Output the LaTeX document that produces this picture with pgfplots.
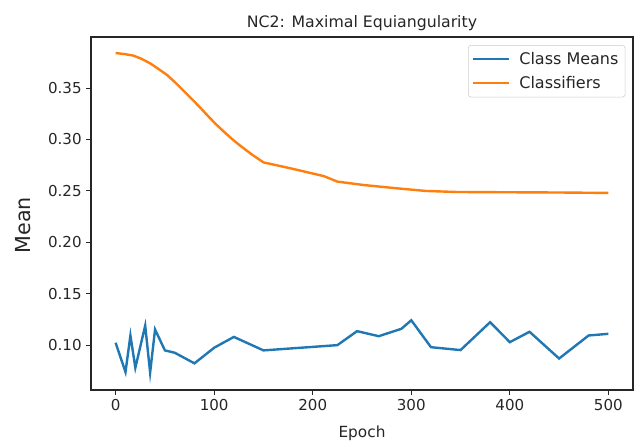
\documentclass[border=0pt]{standalone}
\usepackage{pgfplots}
\pgfplotsset{compat=1.18}
\usepackage{fontspec}
\setmainfont{DejaVu Sans}
\definecolor{mplblue}{HTML}{1F77B4}
\definecolor{mplorange}{HTML}{FF7F0E}
\definecolor{txt}{HTML}{262626}
\begin{document}
\begin{tikzpicture}
\begin{axis}[
  name=ax,
  scale only axis,
  width=406.5pt, height=264.75pt,
  xmin=-25, xmax=525,
  ymin=0.0564, ymax=0.3996,
  xtick={0,100,200,300,400,500},
  ytick={0.10,0.15,0.20,0.25,0.30,0.35},
  xtick pos=bottom, ytick pos=left,
  tick align=outside,
  major tick length=3.5pt,
  every tick/.style={txt, line width=0.7pt},
  axis line style={txt, line width=0.8pt},
  /pgf/number format/assume math mode=true,
  yticklabel style={/pgf/number format/fixed, /pgf/number format/fixed zerofill, /pgf/number format/precision=2},
  xticklabel style={/pgf/number format/fixed},
  tick label style={font=\fontsize{11.3}{12}\selectfont, text=txt},
  title={NC2: Maximal Equiangularity},
  title style={font=\fontsize{11.8}{13}\selectfont, text=txt, at={(axis description cs:0.5,1)}, anchor=south, yshift=-4.5pt},
  xlabel={Epoch},
  xlabel style={font=\fontsize{11.5}{12}\selectfont, text=txt, at={(axis description cs:0.5,0)}, anchor=north, inner sep=0pt, yshift=-27pt},
  ylabel={Mean},
  ylabel style={font=\fontsize{15.5}{16}\selectfont, text=txt, at={(axis description cs:-0.1255,0.467)}, anchor=center, inner sep=0pt},
  legend style={at={(axis description cs:0.986,0.977)}, anchor=north east, font=\fontsize{12}{13}\selectfont, draw=black!20, rounded corners=2pt, inner xsep=3pt, inner ysep=3pt, row sep=3.5pt, text=txt,
    /tikz/every odd column/.append style={column sep=4.5pt}},
  legend cell align=left,
  legend image code/.code={\draw[#1, line width=1.8pt] (0pt,0pt) -- (27pt,0pt);},
]
\addplot[mplblue, line width=1.8pt] coordinates {
(0,0.1023) (10,0.0738) (15,0.1094) (20,0.0780) (30,0.1190) (35,0.0733) (40,0.1152)
(50,0.0949) (60,0.0926) (80,0.0823) (100,0.0975) (120,0.1080) (150,0.0949)
(225,0.1000) (245,0.1136) (267,0.1087) (290,0.1159) (300,0.1242) (320,0.0980)
(350,0.0952) (380,0.1223) (400,0.1029) (420,0.1130) (450,0.0870) (480,0.1094) (500,0.1110)
};
\addlegendentry{Class Means}
\addplot[mplorange, line width=1.8pt] coordinates {
(0,0.3840) (9,0.3830) (18,0.3815) (26,0.3785) (35,0.3740) (43,0.3688) (52,0.3628) (60,0.3558)
(68,0.3482) (76.5,0.3400) (85,0.3318) (93,0.3235) (101,0.3155) (110,0.3074) (118,0.3005) (127,0.2935)
(138,0.2855) (150,0.2777) (177.5,0.2719) (211,0.2644) (225,0.2590) (251.5,0.2557) (285,0.2525)
(315,0.2499) (346,0.2489) (386,0.2487) (450,0.2484) (500,0.2480)
};
\addlegendentry{Classifiers}
\end{axis}
\pgfresetboundingbox
\path[use as bounding box] ([xshift=-68.25pt,yshift=-42.75pt]ax.south west) rectangle ([xshift=5.25pt,yshift=27.75pt]ax.north east);
\end{tikzpicture}
\end{document}
